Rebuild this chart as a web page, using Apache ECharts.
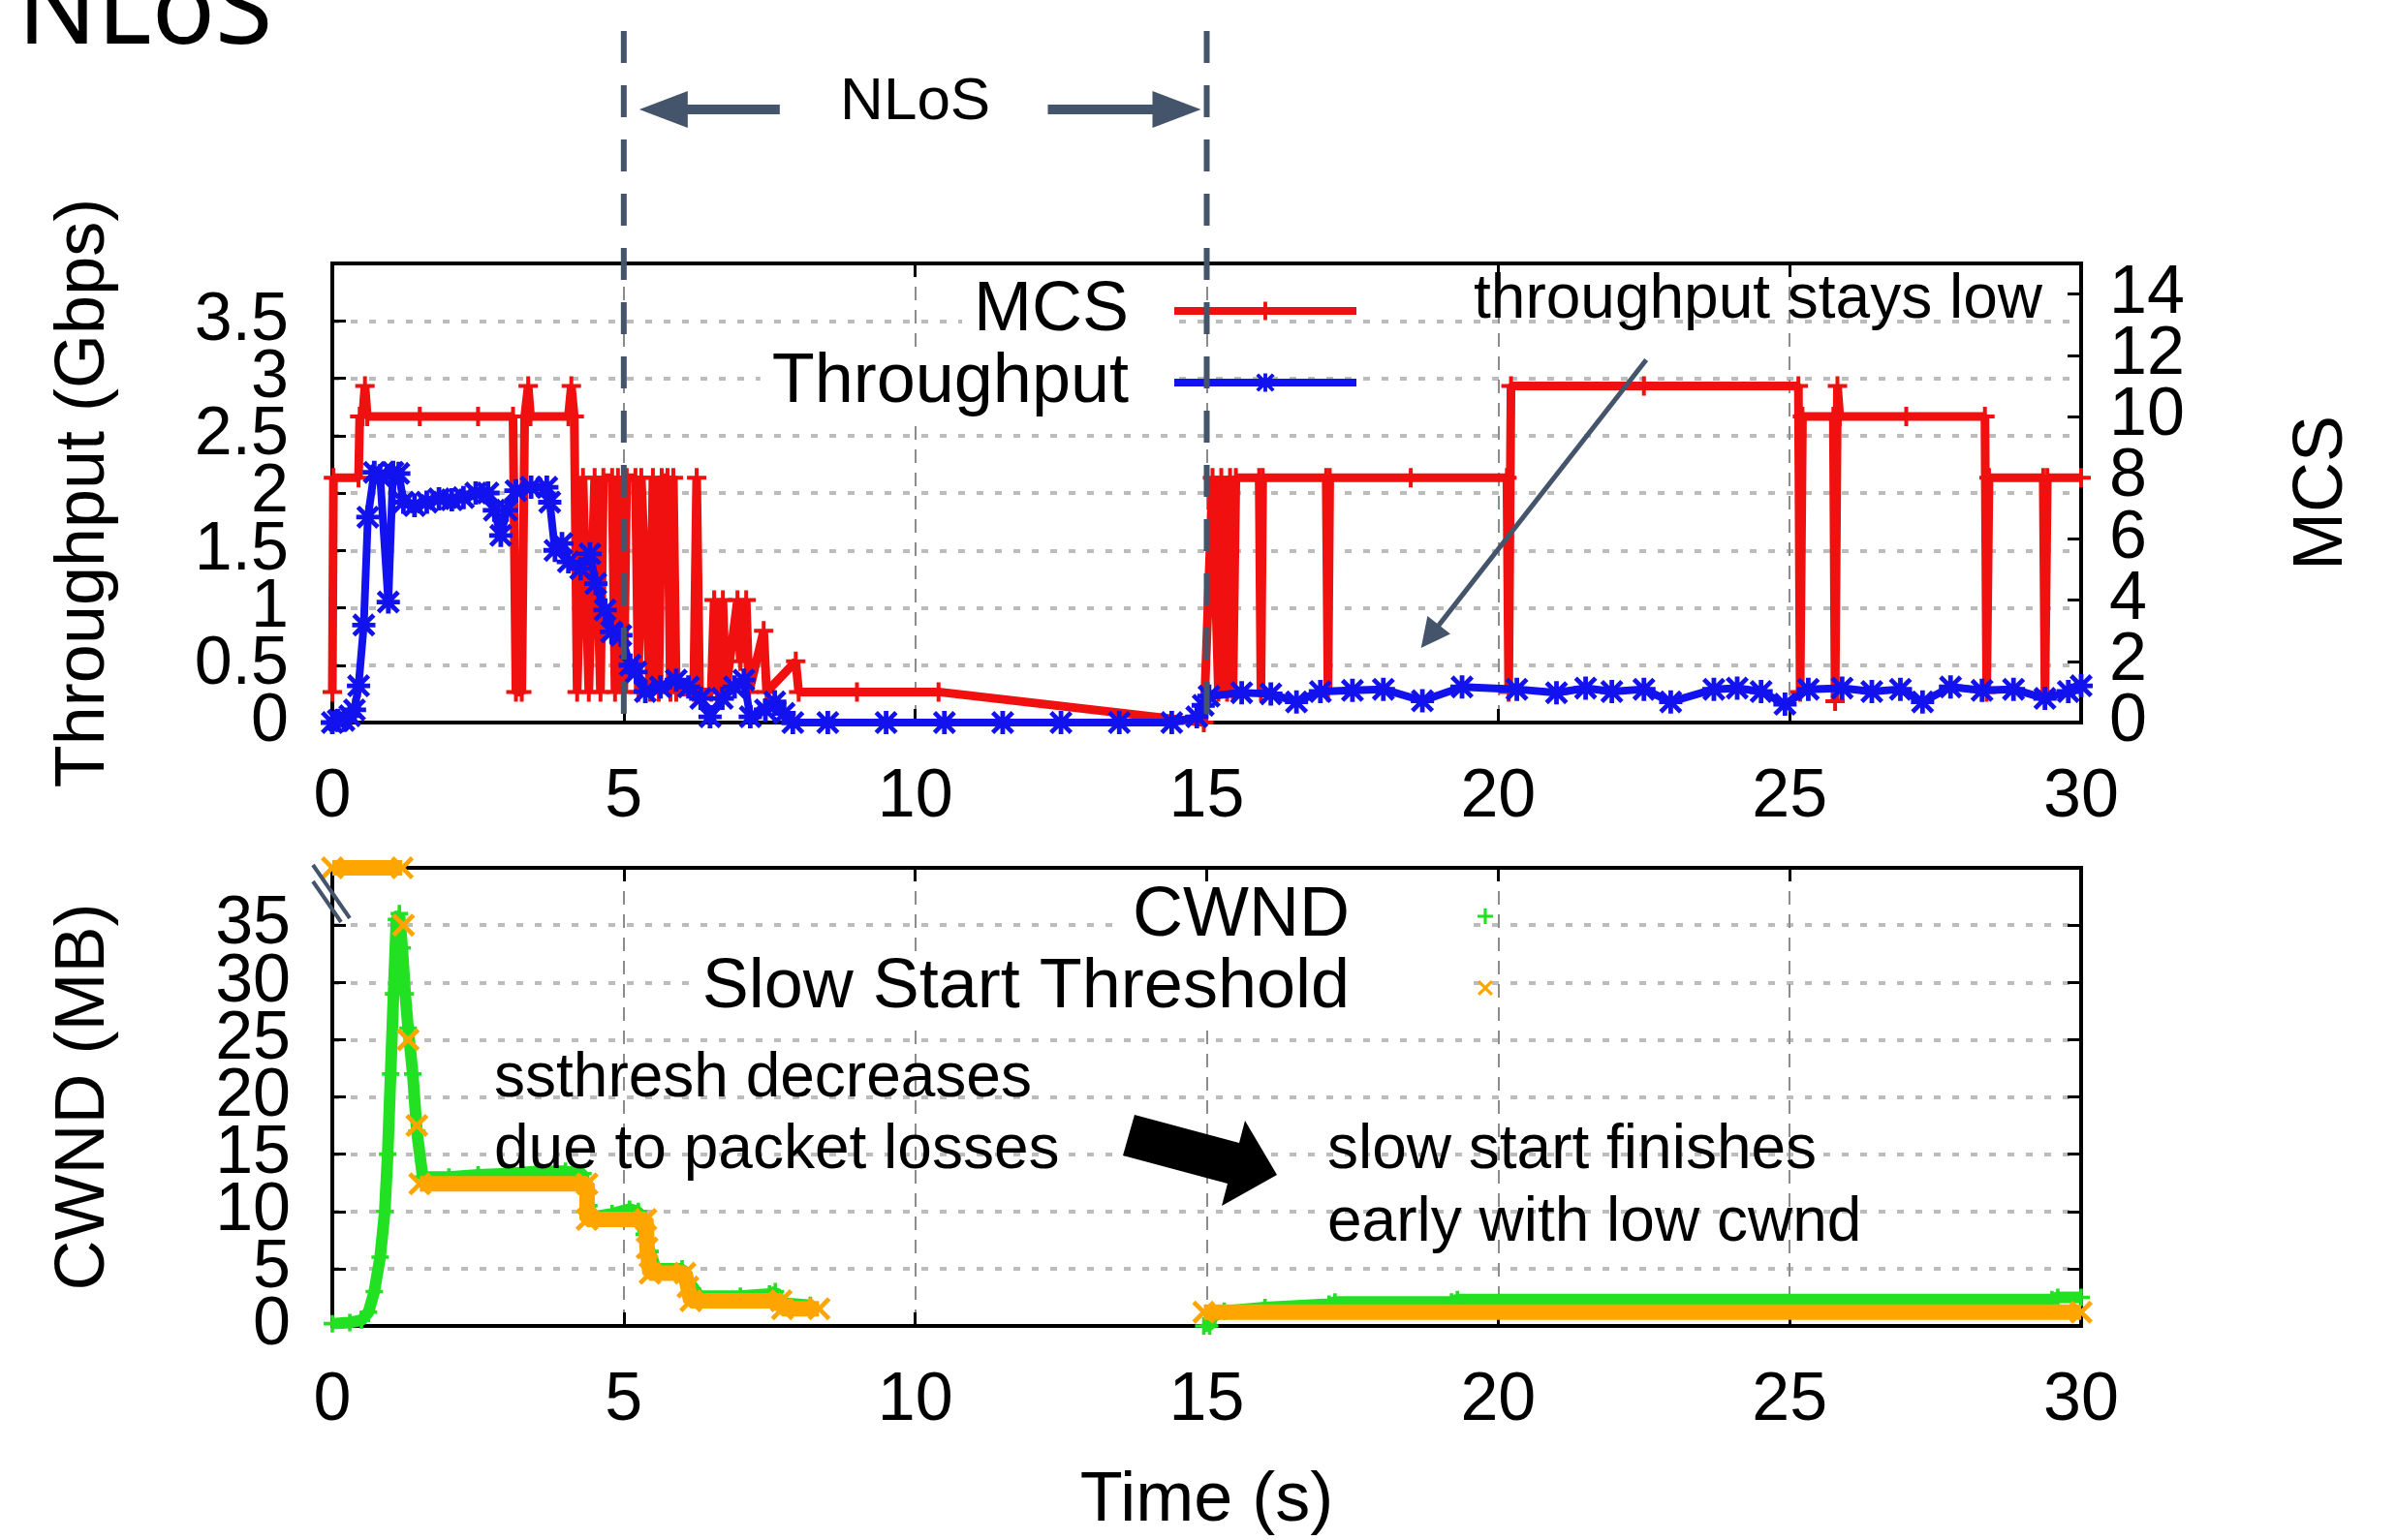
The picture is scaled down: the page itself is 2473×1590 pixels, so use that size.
<!DOCTYPE html>
<html>
<head>
<meta charset="utf-8">
<script src="https://cdn.jsdelivr.net/npm/echarts@6/dist/echarts.min.js"></script>
<style>
html, body { margin: 0; padding: 0; background: #fff; }
#chart { width: 2473px; height: 1590px; }
</style>
</head>
<body>
<div id="chart"></div>
<script>
var myChart = echarts.init(document.getElementById('chart'), null, {renderer: 'canvas'});

// top panel: MCS (right axis) and throughput in Gbps (left axis), [time s, value]
var mcsData = [
    [0.0, 1], [0.02, 8], [0.45, 8], [0.47, 10], [0.52, 10], [0.56, 11], [0.6, 10], [1.5, 10], [2.5, 10],
    [3.1, 10], [3.15, 1], [3.25, 1], [3.3, 10], [3.36, 11], [3.4, 10], [4.05, 10], [4.1, 11], [4.15, 10],
    [4.2, 1], [4.3, 8], [4.4, 1], [4.5, 8], [4.6, 1], [4.65, 8], [4.8, 8], [4.85, 1], [4.9, 8], [5.0, 1],
    [5.05, 8], [5.2, 8], [5.25, 1], [5.3, 8], [5.45, 1], [5.5, 8], [5.6, 1], [5.65, 8], [5.75, 8], [5.8, 1],
    [5.85, 8], [5.9, 1], [6.2, 1], [6.25, 8], [6.3, 1], [6.5, 1], [6.55, 4], [6.6, 1], [6.7, 4], [6.75, 1],
    [6.95, 4], [7.0, 2], [7.1, 4], [7.15, 1], [7.4, 3], [7.45, 1], [7.95, 2], [8.0, 1], [9.0, 1], [10.4, 1],
    [14.95, 0], [15.1, 8], [15.2, 1], [15.25, 8], [15.35, 1], [15.4, 8], [15.45, 1], [15.5, 8], [15.9, 8],
    [15.93, 1], [15.96, 8], [17.05, 8], [17.08, 1], [17.11, 8], [18.5, 8], [20.15, 8], [20.18, 1], [20.22, 11],
    [22.5, 11], [25.15, 11], [25.18, 1], [25.22, 10], [25.75, 10], [25.78, 0.7], [25.82, 11], [25.86, 10],
    [27.0, 10], [28.35, 10], [28.38, 1], [28.42, 8], [29.35, 8], [29.38, 1], [29.42, 8], [30.0, 8]
];
var throughputData = [
    [0.0, 0.0], [0.1, 0.02], [0.2, 0.02], [0.3, 0.06], [0.38, 0.11], [0.45, 0.32], [0.54, 0.85], [0.61, 1.79],
    [0.72, 2.18], [0.82, 2.15], [0.96, 1.05], [1.04, 2.18], [1.14, 2.17], [1.22, 1.92], [1.41, 1.89],
    [1.62, 1.92], [1.83, 1.95], [2.05, 1.94], [2.25, 1.96], [2.46, 2.0], [2.67, 2.0], [2.78, 1.85],
    [2.89, 1.63], [2.99, 1.85], [3.15, 2.02], [3.41, 2.05], [3.68, 2.05], [3.73, 1.92], [3.82, 1.5],
    [3.94, 1.56], [4.05, 1.4], [4.26, 1.34], [4.42, 1.47], [4.52, 1.21], [4.68, 0.98], [4.79, 0.79],
    [4.95, 0.76], [5.11, 0.5], [5.21, 0.44], [5.37, 0.27], [5.63, 0.31], [5.9, 0.37], [6.11, 0.31],
    [6.32, 0.21], [6.48, 0.05], [6.69, 0.21], [6.9, 0.31], [7.06, 0.37], [7.17, 0.05], [7.43, 0.11],
    [7.59, 0.18], [7.75, 0.08], [7.9, 0.0], [8.5, 0.0], [9.5, 0.0], [10.5, 0.0], [11.5, 0.0], [12.5, 0.0],
    [13.5, 0.0], [14.4, 0.0], [14.83, 0.05], [14.94, 0.15], [15.04, 0.23], [15.6, 0.26], [16.1, 0.25],
    [16.54, 0.18], [16.95, 0.27], [17.5, 0.28], [18.03, 0.29], [18.7, 0.19], [19.38, 0.31], [20.32, 0.29],
    [21.0, 0.26], [21.5, 0.3], [21.95, 0.27], [22.5, 0.29], [22.96, 0.18], [23.7, 0.29], [24.1, 0.3],
    [24.51, 0.27], [24.92, 0.16], [25.32, 0.29], [25.9, 0.3], [26.41, 0.27], [26.9, 0.29], [27.28, 0.18],
    [27.76, 0.31], [28.3, 0.28], [28.84, 0.29], [29.38, 0.21], [29.78, 0.27], [30.0, 0.32]
];

// bottom panel: CWND and slow start threshold in MB, [time s, value], null = no data
var cwndData = [
    [0.0, 0.2], [0.3, 0.3], [0.5, 0.5], [0.62, 1.2], [0.72, 3.0], [0.82, 6.0], [0.9, 10.0], [0.95, 15.0],
    [1.0, 22.0], [1.05, 29.0], [1.1, 35.5], [1.15, 36.0], [1.2, 33.0], [1.25, 29.0], [1.3, 26.0], [1.38, 22.0],
    [1.45, 17.0], [1.55, 13.0], [2.0, 13.0], [2.5, 13.2], [3.0, 13.3], [3.5, 13.5], [4.0, 13.5], [4.3, 13.3],
    [4.4, 10.5], [4.45, 9.5], [4.8, 9.8], [5.1, 10.2], [5.25, 10.0], [5.35, 8.0], [5.45, 6.5], [5.55, 5.0],
    [6.0, 5.0], [6.1, 4.0], [6.3, 2.6], [7.0, 2.6], [7.5, 2.8], [7.6, 3.0], [7.7, 2.0], [8.2, 1.8],
    [11.5, null], [14.95, 0.0], [15.05, 0.0], [15.1, 0.8], [15.3, 1.3], [16.0, 1.6], [17.1, 1.9], [17.2, 2.1],
    [19.2, 2.1], [19.3, 2.3], [29.5, 2.3], [29.6, 2.5], [30.0, 2.5]
];
var ssthreshData = [
    [0.0, 40], [1.2, 40], [1.21, null], [1.22, 35], [1.25, null], [1.3, 25], [1.35, null], [1.45, 17.5],
    [1.47, null], [1.5, 12.4], [4.37, 12.4], [4.37, 9.3], [5.38, 9.3], [5.4, 6.8], [5.45, 4.6], [6.05, 4.6],
    [6.1, 3.4], [6.15, 2.2], [7.7, 2.2], [7.72, 1.5], [8.35, 1.5], [11.5, null], [14.95, 1.2], [30.0, 1.2]
];

// annotation arrow in the top panel, [time s, Gbps]
var stayLowArrow = [[22.54, 3.16], [18.83, 0.75]];

var FONT = '"Liberation Sans", Arial, sans-serif';
var SLATE = '#44546a';
var RED = '#f01010', BLUE = '#1212ee', GREEN = '#22e022', ORANGE = '#ffa500';
var PLUS = 'path://M4,0L6,0L6,4L10,4L10,6L6,6L6,10L4,10L4,6L0,6L0,4L4,4Z';
var CROSS = 'path://M1.4,0L5,3.6L8.6,0L10,1.4L6.4,5L10,8.6L8.6,10L5,6.4L1.4,10L0,8.6L3.6,5L0,1.4Z';
var STAR = PLUS + 'M1.4,0L5,3.6L8.6,0L10,1.4L6.4,5L10,8.6L8.6,10L5,6.4L1.4,10L0,8.6L3.6,5L0,1.4Z';

var gridV = {color: '#8c8c8c', width: 2, type: [14, 10]};
var gridH = {color: '#bcbcbc', width: 4, type: [7, 12]};
var blackLine = {show: true, onZero: false, lineStyle: {color: '#000', width: 4}};
var inTick = {show: true, inside: true, length: 14, lineStyle: {color: '#000', width: 3}};

function timeAxis(grid, pos, labels) {
    return {
        type: 'value', gridIndex: grid, position: pos, min: 0, max: 30, interval: 5,
        axisLine: blackLine,
        axisTick: inTick,
        axisLabel: {show: labels, fontSize: 70, fontFamily: FONT, color: '#000', margin: 43,
            showMinLabel: true, showMaxLabel: true, hideOverlap: false},
        splitLine: {show: labels, showMinLine: false, showMaxLine: false, lineStyle: gridV}
    };
}

// the 0 label sits too close to its neighbour, so the main axes skip it
// and a bare overlay axis with the same range prints it
function labelStyle(margin, top) {
    return {fontSize: 70, fontFamily: FONT, color: '#000', margin: margin, showMinLabel: false,
        formatter: function (v) { return v > top ? '' : v; }};
}
function zeroAxis(grid, pos, max, margin) {
    return {
        type: 'value', gridIndex: grid, position: pos, min: 0, max: max, interval: max,
        axisLine: {show: false, onZero: false}, axisTick: {show: false}, splitLine: {show: false},
        axisLabel: {fontSize: 70, fontFamily: FONT, color: '#000', margin: margin,
            showMinLabel: true, showMaxLabel: false,
            formatter: function (v) { return v === 0 ? '0' : ''; }}
    };
}

var xBottom = timeAxis(1, 'bottom', true);
xBottom.name = 'Time (s)';
xBottom.nameLocation = 'middle';
xBottom.nameGap = 145;
xBottom.nameTextStyle = {fontSize: 72, fontFamily: FONT, color: '#000'};

option = {
    animation: false,
    backgroundColor: '#fff',
    textStyle: {fontFamily: FONT},
    grid: [
        {left: 343, top: 272, width: 1805, height: 474, show: true, borderColor: '#000', borderWidth: 4},
        {left: 343, top: 896, width: 1805, height: 473, show: true, borderColor: '#000', borderWidth: 4}
    ],
    xAxis: [timeAxis(0, 'bottom', true), timeAxis(0, 'top', false), xBottom, timeAxis(1, 'top', false)],
    yAxis: [
        {
            type: 'value', gridIndex: 0, position: 'left', min: 0, max: 4, interval: 0.5,
            name: 'Throughput (Gbps)', nameLocation: 'middle', nameGap: 220,
            nameTextStyle: {fontSize: 72, fontFamily: FONT, color: '#000'},
            axisLine: blackLine, axisTick: inTick,
            axisLabel: labelStyle(45, 3.5),
            splitLine: {show: true, showMinLine: false, showMaxLine: false, lineStyle: gridH}
        },
        {
            type: 'value', gridIndex: 0, position: 'right', min: 0, max: 15, interval: 2,
            name: 'MCS', nameLocation: 'middle', nameGap: 213,
            nameTextStyle: {fontSize: 72, fontFamily: FONT, color: '#000'},
            axisLine: blackLine, axisTick: inTick,
            axisLabel: labelStyle(29, 14),
            splitLine: {show: false}
        },
        {
            type: 'value', gridIndex: 1, position: 'left', min: 0, max: 40, interval: 5,
            name: 'CWND (MB)', nameLocation: 'middle', nameGap: 220,
            nameTextStyle: {fontSize: 72, fontFamily: FONT, color: '#000'},
            axisLine: blackLine, axisTick: inTick,
            axisLabel: labelStyle(43, 35),
            splitLine: {show: true, showMinLine: false, showMaxLine: false, lineStyle: gridH}
        },
        {
            type: 'value', gridIndex: 1, position: 'right', min: 0, max: 40, interval: 5,
            axisLine: blackLine, axisTick: inTick, axisLabel: {show: false}, splitLine: {show: false}
        },
        zeroAxis(0, 'left', 4, 45),
        zeroAxis(0, 'right', 15, 29),
        zeroAxis(1, 'left', 40, 43)
    ],
    legend: [
        {
            data: ['MCS', 'Throughput'], orient: 'vertical', align: 'right',
            right: 1069, top: 285, padding: 0, itemGap: 2, itemWidth: 188, itemHeight: 24,
            selectedMode: false, lineStyle: {width: 8},
            textStyle: {fontSize: 72, fontFamily: FONT, color: '#000', backgroundColor: '#fff', padding: [0, 42, 0, 12]}
        },
        {
            data: [{name: 'CWND', icon: PLUS}, {name: 'Slow Start Threshold', icon: CROSS}],
            orient: 'vertical', align: 'right',
            right: 932, top: 910, padding: 0, itemGap: 2, itemWidth: 16, itemHeight: 16,
            selectedMode: false,
            textStyle: {fontSize: 72, fontFamily: FONT, color: '#000', backgroundColor: '#fff', padding: [0, 127, 0, 12]}
        }
    ],
    series: [
        {
            name: 'MCS', type: 'line', xAxisIndex: 0, yAxisIndex: 1, data: mcsData, z: 2,
            color: RED, lineStyle: {color: RED, width: 9}, itemStyle: {color: RED},
            symbol: PLUS, symbolSize: 20, emphasis: {disabled: true}
        },
        {
            name: 'Throughput', type: 'line', xAxisIndex: 0, yAxisIndex: 0, data: throughputData, z: 3,
            color: BLUE, lineStyle: {color: BLUE, width: 8}, itemStyle: {color: BLUE},
            symbol: STAR, symbolSize: 24, emphasis: {disabled: true},
            markLine: {
                silent: true, animation: false, symbol: ['none', 'triangle'], symbolSize: 30,
                label: {show: false}, lineStyle: {color: SLATE, width: 5, type: 'solid'},
                data: [[{coord: stayLowArrow[0]}, {coord: stayLowArrow[1]}]]
            }
        },
        {
            name: 'CWND', type: 'line', xAxisIndex: 2, yAxisIndex: 2, data: cwndData, z: 2,
            color: GREEN, lineStyle: {color: GREEN, width: 12}, itemStyle: {color: GREEN},
            symbol: PLUS, symbolSize: 18, emphasis: {disabled: true}
        },
        {
            name: 'Slow Start Threshold', type: 'line', xAxisIndex: 2, yAxisIndex: 2, data: ssthreshData, z: 3,
            clip: false,
            color: ORANGE, lineStyle: {color: ORANGE, width: 16}, itemStyle: {color: ORANGE},
            symbol: CROSS, symbolSize: 24, emphasis: {disabled: true}
        }
    ]
};

myChart.setOption(option);

// NLoS marks, arrows and notes, placed through the axes
var pTop5 = myChart.convertToPixel({seriesIndex: 1}, [5, 0]);
var pTop15 = myChart.convertToPixel({seriesIndex: 1}, [15, 0]);
var pBot = myChart.convertToPixel({seriesIndex: 2}, [0, 40]);
var x5 = pTop5[0], x15 = pTop15[0], yBase = pTop5[1];
var gx0 = pBot[0], gy40 = pBot[1];
var ay = 113;

function note(text, x, y, size, align) {
    return {type: 'text', x: x, y: y, z: 100,
        style: {text: text, font: size + 'px ' + FONT, fill: '#000', align: align || 'left', verticalAlign: 'middle'}};
}

myChart.setOption({
    graphic: [
        {type: 'text', x: 18, y: 14, z: 100,
            style: {text: 'NLoS', font: '108px "Noto Sans", sans-serif', fill: '#000', align: 'left', verticalAlign: 'middle'}},
        {type: 'line', z: 100, shape: {x1: x5, y1: 32, x2: x5, y2: yBase + 6},
            style: {stroke: SLATE, lineWidth: 6, lineDash: [33, 23]}},
        {type: 'line', z: 100, shape: {x1: x15, y1: 32, x2: x15, y2: yBase + 6},
            style: {stroke: SLATE, lineWidth: 6, lineDash: [33, 23]}},
        {type: 'polygon', z: 100, style: {fill: SLATE},
            shape: {points: [[x5 + 16, ay], [x5 + 66, ay - 19], [x5 + 66, ay - 5], [x5 + 161, ay - 5],
                [x5 + 161, ay + 5], [x5 + 66, ay + 5], [x5 + 66, ay + 19]]}},
        {type: 'polygon', z: 100, style: {fill: SLATE},
            shape: {points: [[x15 - 6, ay], [x15 - 56, ay - 19], [x15 - 56, ay - 5], [x15 - 164, ay - 5],
                [x15 - 164, ay + 5], [x15 - 56, ay + 5], [x15 - 56, ay + 19]]}},
        note('NLoS', (x5 + x15) / 2, 106, 62, 'center'),
        note('throughput stays low', 1521, 310, 64),
        note('ssthresh decreases', 510, 1114, 64),
        note('due to packet losses', 510, 1188, 64),
        note('slow start finishes', 1370, 1188, 64),
        note('early with low cwnd', 1370, 1263, 64),
        {type: 'polygon', z: 100, style: {fill: '#000'},
            shape: {points: [[1171, 1151], [1279, 1180], [1285, 1157], [1318, 1213], [1261, 1245], [1267, 1222], [1159, 1193]]}},
        {type: 'line', z: 100, shape: {x1: gx0 - 20, y1: gy40 - 3, x2: gx0 + 18, y2: gy40 + 52},
            style: {stroke: SLATE, lineWidth: 4}},
        {type: 'line', z: 100, shape: {x1: gx0 - 20, y1: gy40 + 14, x2: gx0 + 9, y2: gy40 + 56},
            style: {stroke: SLATE, lineWidth: 4}}
    ]
});
</script>
</body>
</html>
